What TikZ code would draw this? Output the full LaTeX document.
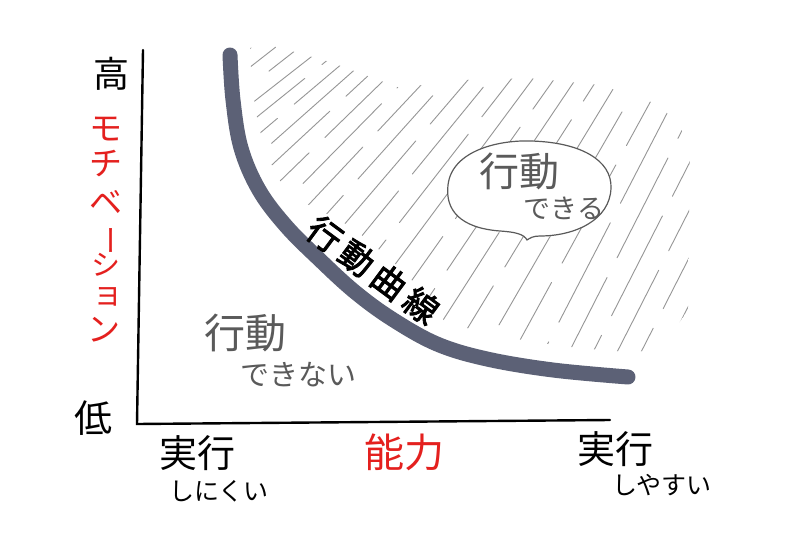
\documentclass[tikz,border=0pt]{standalone}
\usepackage{fontspec}
\newfontfamily\jp{Noto Sans CJK JP}
\newfontfamily\jpbold[FakeBold=2.5]{Noto Sans CJK JP}
\definecolor{curvec}{RGB}{92,97,118}
\definecolor{redc}{RGB}{228,32,30}
\definecolor{grayt}{RGB}{90,90,90}
\definecolor{hatchc}{RGB}{150,150,150}
\tikzset{
  axisline/.style={line width=2.4pt, black, line cap=round},
  behave/.style={line width=15pt, curvec, line cap=round, line join=round},
  hatchline/.style={line width=0.9pt, hatchc, line cap=round},
  bubble/.style={line width=1.2pt, draw=grayt, fill=white},
  lbl/.style={inner sep=0pt, font=\jp},
  curvelbl/.style={inner sep=0pt, rotate=-36.5, font=\jpbold},
}
\newcommand{\fs}[1]{\fontsize{#1}{#1}\selectfont}
\begin{document}
\begin{tikzpicture}[x=1pt,y=-1pt]
\useasboundingbox (0,0) rectangle (810,540);
\fill[white] (0,0) rectangle (810,540);

% hatching
\begin{scope}
\clip (250,48) .. controls (252,110) and (262,160) .. (290,195)
  .. controls (320,212) and (345,220) .. (365,238)
  .. controls (395,262) and (420,285) .. (445,322)
  .. controls (500,338) and (560,348) .. (630,352)
  -- (660,350) -- (688,310) -- (690,140) -- (660,105) -- (600,85)
  -- (530,78) -- (460,80) -- (400,88) -- (330,62) -- (270,45) -- cycle;
\foreach \i in {0,...,30}{
  \pgfmathsetmacro{\xm}{120+\i*24}
  \pgfmathsetmacro{\ang}{min(63,max(38,38+(\xm-200)*0.055))}
  \pgfmathsetmacro{\ph}{mod(\i*61,130)}
  \draw[hatchline, dash pattern=on 112pt off 22pt, dash phase=\ph pt]
    ({\xm-420*cos(\ang)},{150+420*sin(\ang)}) -- ({\xm+420*cos(\ang)},{150-420*sin(\ang)});
}
\end{scope}

% axes
\coordinate (top) at (143,50);
\coordinate (origin) at (137,424);
\coordinate (right) at (610,420);
\draw[axisline] (top) -- (origin) -- (right);

% behaviour curve
\draw[behave] plot[smooth, tension=0.6] coordinates {(230,55) (233,100) (241,148) (259,190) (286,226) (320,260) (355,292) (392,319) (437,344) (487,359) (553,370) (628,377)};

% speech bubble
\path[bubble] (527,240) .. controls (524,234) and (515,232) .. (500,231)
  .. controls (460,228) and (445,210) .. (448,185)
  .. controls (452,150) and (500,140) .. (530,141)
  .. controls (580,142) and (612,160) .. (611,188)
  .. controls (610,220) and (575,236) .. (540,236)
  .. controls (533,236) and (530,238) .. (527,240) -- cycle;
\node[lbl, grayt] (can1) at (519,171) {\fs{40}行動};
\node[lbl, grayt] (can2) at (564,208) {\fs{27}できる};

% cannot act
\node[lbl, grayt] (cannot1) at (245,333) {\fs{41}行動};
\node[lbl, grayt] (cannot2) at (298,375) {\fs{29}できない};

% curve label
\node[curvelbl] (curvename) at (373,270) {\fs{34}行\hspace{6pt}動\hspace{6pt}曲\hspace{6pt}線};

% y axis labels
\node[lbl] (high) at (111,74) {\fs{36}高};
\node[lbl] (low) at (93,418) {\fs{38}低};
\node[lbl, redc] (m1) at (106,129) {\fs{33}モ};
\node[lbl, redc] (m2) at (106,164) {\fs{33}チ};
\node[lbl, redc] (m3) at (106,202) {\fs{33}ベ};
\node[lbl, redc, rotate=-90] (m4) at (106,240) {\fs{30}ー};
\node[lbl, redc] (m5) at (106,265) {\fs{29}シ};
\node[lbl, redc] (m6) at (108,297) {\fs{31}ョ};
\node[lbl, redc] (m7) at (104,330) {\fs{33}ン};

% x axis labels
\node[lbl] (hard1) at (197,453) {\fs{38}実行};
\node[lbl] (hard2) at (219,491) {\fs{25}しにくい};
\node[lbl, redc] (ability) at (404,452) {\fs{40}能力};
\node[lbl] (easy1) at (615,449) {\fs{38}実行};
\node[lbl] (easy2) at (662,485) {\fs{25}しやすい};
\end{tikzpicture}
\end{document}
